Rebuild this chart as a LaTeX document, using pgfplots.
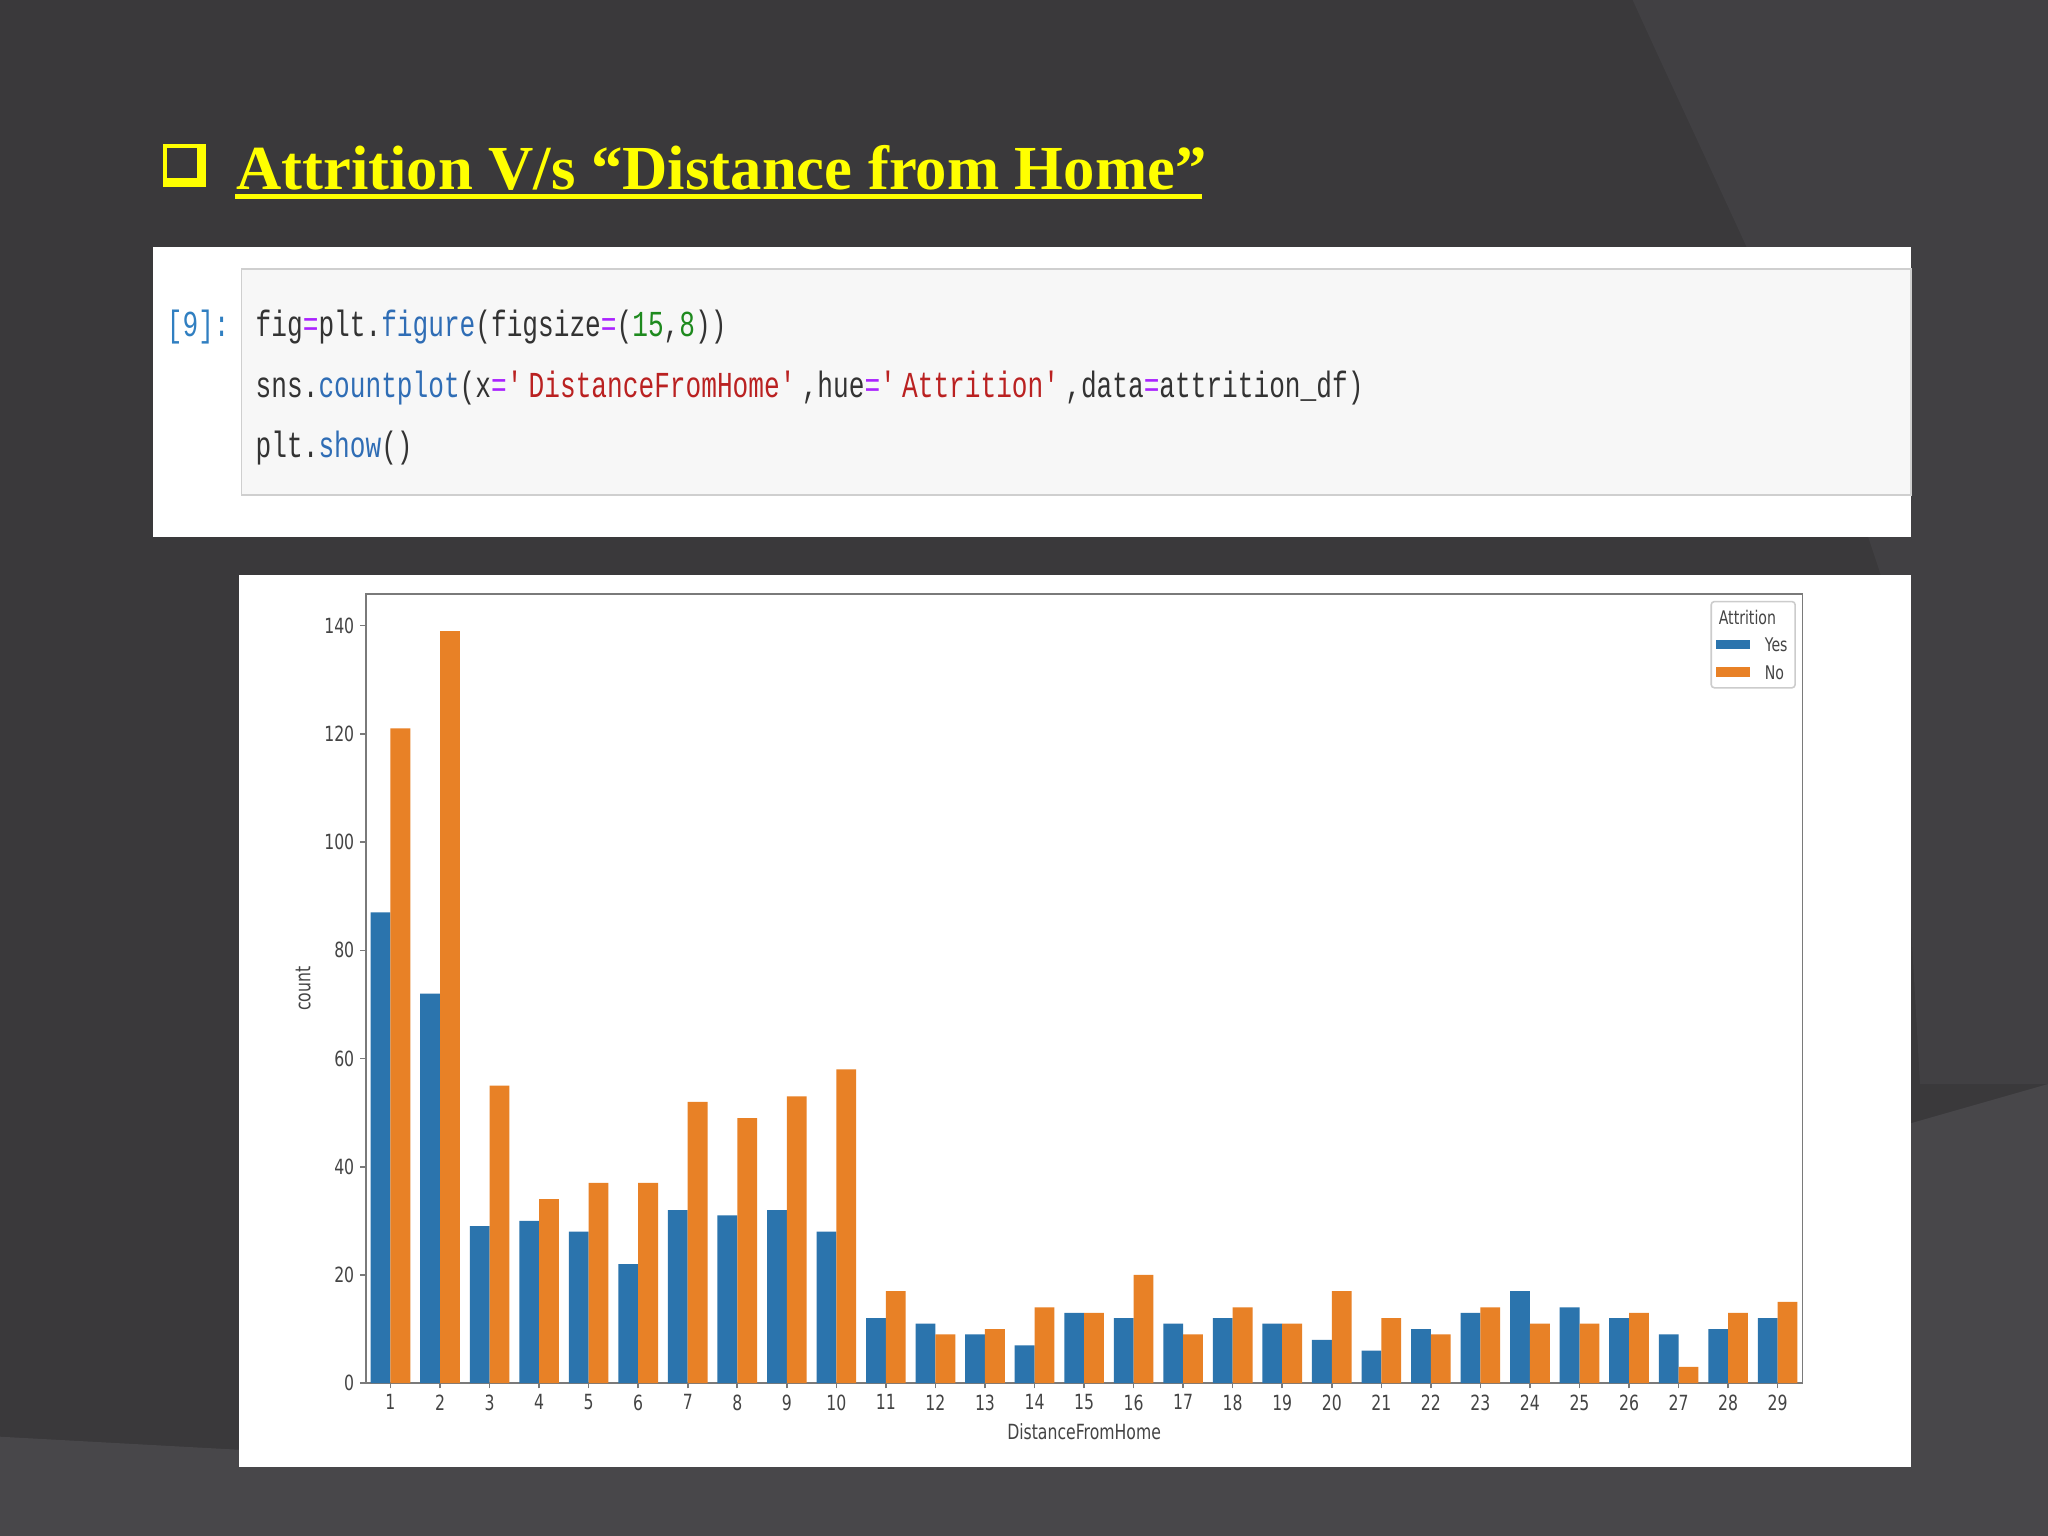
\documentclass[border=0pt]{standalone}
\usepackage{pgfplots}
\pgfplotsset{compat=1.18}
\usepackage{pgfplotstable}
\usepackage{fontspec}
\setmainfont{Liberation Serif}
\newfontfamily\chartfont[FakeStretch=0.75]{DejaVu Sans}
\newfontfamily\codefont[FakeStretch=0.715]{Liberation Mono}

\definecolor{slidebg}{HTML}{3A393B}
\definecolor{slidebgB}{HTML}{414043}
\definecolor{slidebgC}{HTML}{48474A}
\definecolor{titleyellow}{HTML}{FFFF00}
\definecolor{cellgray}{HTML}{F7F7F7}
\definecolor{cellborder}{HTML}{CFCFCF}
\definecolor{promptblue}{HTML}{307FC1}
\definecolor{codetext}{HTML}{333333}
\definecolor{codeprop}{HTML}{2F6DB5}
\definecolor{codeop}{HTML}{AA22FF}
\definecolor{codenum}{HTML}{1E8A1E}
\definecolor{codestr}{HTML}{BA2121}
\definecolor{barblue}{HTML}{2B74AD}
\definecolor{barorange}{HTML}{E88126}
\definecolor{framegray}{HTML}{7A7A7A}
\definecolor{ticktext}{HTML}{444444}

% counts per distance: Attrition = Yes / No
\pgfplotstableread{
d  yes no
1  87  121
2  72  139
3  29  55
4  30  34
5  28  37
6  22  37
7  32  52
8  31  49
9  32  53
10 28  58
11 12  17
12 11  9
13 9   10
14 7   14
15 13  13
16 12  20
17 11  9
18 12  14
19 11  11
20 8   17
21 6   12
22 10  9
23 13  14
24 17  11
25 14  11
26 12  13
27 9   3
28 10  13
29 12  15
}\distdata

\newcommand{\op}[1]{\textcolor{codeop}{#1}}
\newcommand{\pr}[1]{\textcolor{codeprop}{#1}}
\newcommand{\nm}[1]{\textcolor{codenum}{#1}}
\newcommand{\st}[1]{\textcolor{codestr}{#1}}

\begin{document}
\begin{tikzpicture}[x=0.25pt,y=0.25pt]
\path[use as bounding box] (0,0) rectangle (1568,1176);
% slide background
\fill[slidebg] (0,0) rectangle (1568,1176);
\fill[slidebgB] (1250,1176) .. controls (1330,1000) and (1420,820) .. (1450,700) -- (1470,346) -- (1568,346) -- (1568,1176) -- cycle;
\fill[slidebgC] (1463,316) -- (1568,346) -- (1568,0) -- (1463,0) -- cycle;
\fill[slidebgC] (0,0) -- (0,76) -- (183,66) -- (183,0) -- cycle;
\fill[slidebgC] (183,0) rectangle (1463,53);

% title
\fill[titleyellow] (125,1033) rectangle (158,1066);
\fill[slidebg] (128,1040) rectangle (151,1063);
\node[anchor=base west, inner sep=0pt, text=titleyellow,
      font=\fontsize{12}{14}\selectfont\bfseries] at (180,1031)
      {Attrition V/s “Distance from Home”};
\fill[titleyellow] (180,1024) rectangle (920,1027.5);

% code cell
\fill[white] (117,765) rectangle (1463,987);
\filldraw[fill=cellgray, draw=cellborder, line width=0.3pt] (185,797) rectangle (1463,970);
\begin{scope}[every node/.style={anchor=base west, inner sep=0pt,
      font=\codefont\fontsize{7}{8}\selectfont, text=codetext}]
\node[text=promptblue] at (127,918) {[9]:};
\node at (195,918) {fig\op{=}plt.\pr{figure}(figsize\op{=}(\nm{15},\nm{8}))};
\node at (195,872) {sns.\pr{countplot}(x\op{=}\st{\textquotesingle DistanceFromHome\textquotesingle},hue\op{=}\st{\textquotesingle Attrition\textquotesingle},data\op{=}attrition\_df)};
\node at (195,826) {plt.\pr{show}()};
\end{scope}

% chart panel
\fill[white] (183,53) rectangle (1463,736);

\begin{axis}[
    at={(70pt,29.25pt)}, anchor=south west,
    scale only axis, width=275pt, height=151pt,
    xmin=0.5, xmax=29.5, ymin=0, ymax=145.8,
    xtick={1,...,29}, ytick={0,20,...,140},
    tick pos=left, tick align=outside, major tick length=1pt,
    every tick/.style={framegray, line width=0.3pt},
    axis line style={framegray, line width=0.35pt},
    /pgf/number format/assume math mode=true,
    ticklabel style={font=\chartfont\fontsize{4}{5}\selectfont, text=ticktext, inner sep=1pt},
    label style={font=\chartfont\fontsize{4}{5}\selectfont, text=ticktext},
    xlabel={DistanceFromHome}, ylabel={count},
    xlabel style={at={(axis description cs:0.5,-0.061)}, anchor=center},
    ylabel style={at={(axis description cs:-0.0436,0.5)}, anchor=center},
    legend cell align=left,
    legend style={at={(1,1)}, anchor=north east, xshift=-1.25pt, yshift=-1.25pt,
        draw=black!20, line width=0.3pt, rounded corners=0.6pt, fill=white,
        font=\chartfont\fontsize{3.6}{4.2}\selectfont, text=ticktext,
        inner sep=1pt, row sep=1.25pt, column sep=2.3pt,
        nodes={inner sep=0.45pt, text depth=0.2pt, text height=2.9pt}},
]
\addlegendimage{empty legend}
\addlegendentry{\hspace{-8.8pt}Attrition}
\addplot[ybar, bar width=0.4, bar shift=-0.2, fill=barblue, draw=none,
    legend image code/.code={\fill[barblue, sharp corners] (0pt,-0.9pt) rectangle (6.5pt,0.9pt);}]
    table[x=d, y=yes] {\distdata};
\addlegendentry{Yes}
\addplot[ybar, bar width=0.4, bar shift=0.2, fill=barorange, draw=none,
    legend image code/.code={\fill[barorange, sharp corners] (0pt,-0.9pt) rectangle (6.5pt,0.9pt);}]
    table[x=d, y=no] {\distdata};
\addlegendentry{No}
\end{axis}
\end{tikzpicture}
\end{document}
